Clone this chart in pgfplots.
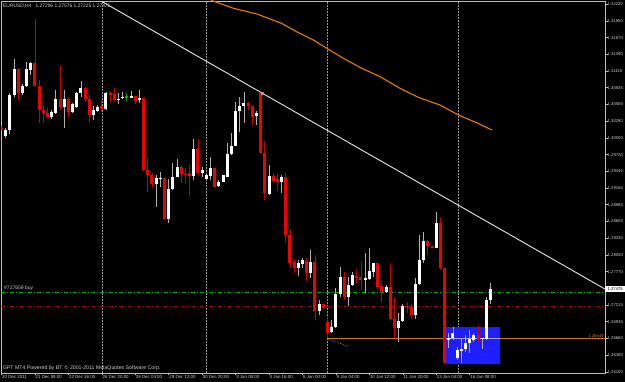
\documentclass[border=0pt]{standalone}
\usepackage{pgfplots}
\pgfplotsset{compat=1.18}
\usepackage{pgfplotstable}
\usepackage{fontspec}
\setmainfont{Liberation Sans}

\definecolor{mtred}{RGB}{240,0,0}
\definecolor{mtredwick}{RGB}{200,0,0}
\definecolor{bullwick}{RGB}{175,175,175}
\definecolor{maorange}{RGB}{230,125,0}
\definecolor{hlorange}{RGB}{205,115,30}
\definecolor{lavender}{RGB}{175,165,255}
\definecolor{boxblue}{RGB}{30,30,255}
\definecolor{sepgray}{RGB}{150,150,150}
\definecolor{mtgreen}{RGB}{0,170,0}
\definecolor{mtdred}{RGB}{165,0,0}
\definecolor{fg}{RGB}{205,205,205}
\definecolor{framegray}{RGB}{190,190,190}

% H4 candles, bar index i (bull = close above open)
\pgfplotstableread{
i o h l c
1 1.30030 1.30164 1.29997 1.30130
2 1.30130 1.30747 1.30064 1.30714
3 1.30714 1.31314 1.30680 1.31147
5 1.30747 1.30897 1.30714 1.30864
6 1.30864 1.31264 1.30847 1.31147
7 1.31130 1.31264 1.31047 1.31247
12 1.30347 1.30464 1.30314 1.30430
13 1.30414 1.30797 1.30397 1.30647
15 1.30514 1.30797 1.30164 1.30647
17 1.30430 1.30580 1.30414 1.30564
18 1.30514 1.30764 1.30497 1.30747
19 1.30747 1.30947 1.30680 1.30830
22 1.30380 1.30530 1.30297 1.30464
23 1.30447 1.30547 1.30430 1.30514
25 1.30480 1.30764 1.30464 1.30747
28 1.30647 1.30747 1.30564 1.30647
29 1.30659 1.30769 1.30642 1.30685
31 1.30680 1.30780 1.30664 1.30697
33 1.30630 1.30797 1.30585 1.30669
37 1.29230 1.29380 1.28847 1.29330
38 1.29330 1.29430 1.29180 1.29330
40 1.28647 1.29314 1.28580 1.29147
41 1.29147 1.29580 1.29130 1.29347
42 1.29347 1.29647 1.29347 1.29514
46 1.29364 1.29980 1.29297 1.29814
48 1.29409 1.29519 1.29352 1.29464
49 1.29314 1.29414 1.29297 1.29380
50 1.29369 1.29685 1.29297 1.29497
52 1.29197 1.29297 1.29180 1.29269
53 1.29269 1.29380 1.29264 1.29380
54 1.29352 1.29914 1.29347 1.29730
55 1.29730 1.30080 1.29714 1.29864
56 1.29864 1.30602 1.29864 1.30447
57 1.30447 1.30685 1.30102 1.30530
58 1.30530 1.30759 1.30242 1.30575
61 1.30364 1.30447 1.30214 1.30409
64 1.29064 1.29547 1.29047 1.29364
67 1.29269 1.29380 1.29085 1.29352
71 1.27825 1.27964 1.27697 1.27919
72 1.27897 1.27992 1.27825 1.27964
74 1.27742 1.28130 1.27659 1.27935
76 1.27119 1.27297 1.27047 1.27225
79 1.26759 1.26964 1.26742 1.26852
80 1.26852 1.27492 1.26835 1.27392
81 1.27392 1.27852 1.27352 1.27675
83 1.27352 1.27685 1.27197 1.27547
84 1.27547 1.27769 1.27530 1.27714
87 1.27642 1.28075 1.27419 1.27659
88 1.27642 1.28169 1.27630 1.27780
89 1.27769 1.27919 1.27685 1.27909
92 1.27435 1.27547 1.27419 1.27519
95 1.26835 1.27075 1.26602 1.26952
96 1.26952 1.27225 1.26935 1.27202
99 1.27047 1.27659 1.26975 1.27564
100 1.27564 1.28380 1.27547 1.27964
101 1.27964 1.28435 1.27909 1.28285
104 1.28169 1.28769 1.28159 1.28585
107 1.26642 1.26752 1.26492 1.26669
108 1.26669 1.26852 1.26630 1.26752
109 1.26325 1.26509 1.26297 1.26464
110 1.26464 1.26659 1.26252 1.26480
111 1.26480 1.26714 1.26435 1.26585
112 1.26575 1.26797 1.26409 1.26642
113 1.26630 1.26752 1.26602 1.26714
115 1.26659 1.26659 1.26475 1.26659
116 1.26642 1.27342 1.26630 1.27297
117 1.27296 1.27576 1.27225 1.27475
}\bull

\pgfplotstableread{
i o h l c
0 1.30164 1.30197 1.30114 1.30130
4 1.31147 1.31147 1.30630 1.30747
8 1.31247 1.31980 1.30847 1.30864
9 1.30864 1.30964 1.30247 1.30464
10 1.30464 1.30547 1.30247 1.30414
11 1.30414 1.30497 1.30330 1.30347
14 1.30647 1.31197 1.30464 1.30514
16 1.30647 1.30664 1.30347 1.30430
20 1.30830 1.30847 1.30597 1.30647
21 1.30647 1.30714 1.30264 1.30380
24 1.30530 1.30614 1.30430 1.30480
26 1.30752 1.30769 1.30602 1.30725
27 1.30730 1.30830 1.30614 1.30630
32 1.30697 1.30697 1.30564 1.30614
34 1.30669 1.30669 1.29447 1.29464
35 1.29464 1.29680 1.29097 1.29380
36 1.29380 1.29414 1.29180 1.29230
39 1.29330 1.29330 1.28630 1.28647
43 1.29514 1.29547 1.29247 1.29397
44 1.29405 1.29497 1.29247 1.29389
45 1.29414 1.29547 1.29030 1.29364
47 1.29814 1.29964 1.29380 1.29414
51 1.29497 1.29497 1.29180 1.29185
59 1.30575 1.30602 1.30464 1.30535
60 1.30535 1.30535 1.30214 1.30352
62 1.30742 1.30742 1.29752 1.29752
63 1.29752 1.29952 1.28964 1.29085
65 1.29364 1.29409 1.29242 1.29285
66 1.29309 1.29409 1.29119 1.29269
68 1.29342 1.29419 1.28252 1.28380
69 1.28380 1.28464 1.27830 1.27919
70 1.27935 1.27964 1.27742 1.27825
73 1.27952 1.27992 1.27619 1.27742
75 1.27935 1.28047 1.26964 1.27114
77 1.27225 1.27230 1.27147 1.27159
78 1.26935 1.27030 1.26659 1.26752
82 1.27675 1.27769 1.27297 1.27352
85 1.27697 1.27809 1.27575 1.27659
86 1.27675 1.27947 1.27464 1.27630
90 1.27909 1.27909 1.27464 1.27509
91 1.27530 1.27614 1.27269 1.27435
93 1.27519 1.27909 1.26964 1.26980
94 1.26980 1.27325 1.26659 1.26835
97 1.27202 1.27259 1.27075 1.27185
98 1.27185 1.27225 1.26992 1.27047
102 1.28285 1.28297 1.28047 1.28197
103 1.28197 1.28197 1.28164 1.28169
105 1.28585 1.28659 1.27797 1.27825
106 1.27825 1.27825 1.26230 1.26242
114 1.26714 1.26864 1.26602 1.26642
}\bear

\pgfplotstableread{
i o h l c
30 1.30685 1.30747 1.30614 1.30685
}\doji

\begin{document}
\begin{tikzpicture}
\path[use as bounding box, fill=black] (-1.5pt,-9pt) rectangle (623.5pt,373pt);
\begin{axis}[
  scale only axis, width=603.5pt, height=372pt,
  xmin=0, xmax=144.38, ymin=1.26080, ymax=1.32280,
  axis line style={draw=framegray, line width=0.6pt},
  tick align=outside, major tick length=2.5pt,
  xtick pos=left, ytick pos=right, yticklabel pos=right,
  tick style={draw=framegray, line width=0.5pt},
  xtick={0,8,16,24,32,40,48,56,64,72,80,88,96,104,112},
  xticklabels={20 Dec 2011,21 Dec 08:00,22 Dec 16:00,26 Dec 20:00,28 Dec 04:00,29 Dec 12:00,30 Dec 20:00,3 Jan 08:00,4 Jan 16:00,6 Jan 00:00,9 Jan 04:00,10 Jan 12:00,11 Jan 20:00,13 Jan 04:00,16 Jan 08:00},
  ytick={1.32230,1.31950,1.31670,1.31390,1.31115,1.30835,1.30555,1.30280,1.30000,1.29720,1.29445,1.29165,1.28885,1.28605,1.28330,1.28050,1.27770,1.27215,1.26935,1.26660,1.26380,1.26100},
  yticklabels={1.32230,1.31950,1.31670,1.31390,1.31115,1.30835,1.30555,1.30280,1.30000,1.29720,1.29445,1.29165,1.28885,1.28605,1.28330,1.28050,1.27770,1.27215,1.26935,1.26660,1.26380,1.26100},
  xticklabel style={font=\fontsize{4.4}{5}\selectfont, text=fg, anchor=north west, inner sep=0pt, xshift=0.5pt},
  yticklabel style={font=\fontsize{4.2}{5}\selectfont, text=fg, anchor=west, inner sep=0pt},
]
% weekly separators
\addplot[sepgray, line width=0.6pt, dash pattern=on 1.5pt off 1.5pt] coordinates {(24,1.2608) (24,1.3228)};
\addplot[sepgray, line width=0.6pt, dash pattern=on 1.5pt off 1.5pt] coordinates {(49,1.2608) (49,1.3228)};
\addplot[sepgray, line width=0.6pt, dash pattern=on 1.5pt off 1.5pt] coordinates {(78,1.2608) (78,1.3228)};
\addplot[sepgray, line width=0.6pt, dash pattern=on 1.5pt off 1.5pt] coordinates {(109.2,1.2608) (109.2,1.3228)};
% blue rectangle
\addplot[fill=boxblue, draw=none] coordinates {(106.3,1.26230) (119.3,1.26230) (119.3,1.26842) (106.3,1.26842)} -- cycle;
% order lines
\addplot[mtgreen, line width=0.7pt, dash pattern=on 4pt off 2pt on 1pt off 2pt] coordinates {(0,1.27430) (144.38,1.27430)};
\addplot[mtdred, line width=0.7pt, dash pattern=on 4pt off 2pt on 1pt off 2pt] coordinates {(0,1.27185) (144.38,1.27185)};
% horizontal level 1.26649
\addplot[hlorange, line width=1.1pt] coordinates {(78,1.26649) (106.3,1.26649)};
\addplot[lavender, line width=1.1pt] coordinates {(106.3,1.26649) (119.3,1.26649)};
\addplot[hlorange, line width=1.1pt] coordinates {(119.3,1.26649) (144.38,1.26649)};
\addplot[sepgray, line width=0.6pt, dash pattern=on 1pt off 1.5pt] coordinates {(78.2,1.26642) (83.2,1.26519)};
% moving average
\addplot[maorange, line width=1.1pt] coordinates {(50.2,1.32290) (51.1,1.32268) (55.5,1.32158) (61.1,1.32063) (67.0,1.31908) (70.6,1.31768) (74.6,1.31630) (78.2,1.31475) (81.8,1.31325) (86.2,1.31158) (90.6,1.31018) (95.3,1.30825) (99.7,1.30675) (104.9,1.30546) (109.3,1.30380) (113.7,1.30251) (117.3,1.30130)};
% trendline
\addplot[white!90!black, line width=0.9pt] coordinates {(24,1.32272) (144.38,1.27479)};
% candles: wicks
\addplot[forget plot, draw=none, mark=none, error bars/.cd, y dir=both, y explicit, error mark=none,
  error bar style={draw=bullwick, line width=0.8pt}]
  table[x=i, y expr=(\thisrow{h}+\thisrow{l})/2, y error expr=(\thisrow{h}-\thisrow{l})/2] {\bull};
\addplot[forget plot, draw=none, mark=none, error bars/.cd, y dir=both, y explicit, error mark=none,
  error bar style={draw=mtredwick, line width=0.8pt}]
  table[x=i, y expr=(\thisrow{h}+\thisrow{l})/2, y error expr=(\thisrow{h}-\thisrow{l})/2] {\bear};
\addplot[forget plot, draw=none, mark=none, error bars/.cd, y dir=both, y explicit, error mark=none,
  error bar style={draw=mtgreen, line width=0.8pt}]
  table[x=i, y expr=(\thisrow{h}+\thisrow{l})/2, y error expr=(\thisrow{h}-\thisrow{l})/2] {\doji};
% candles: bodies
\addplot[forget plot, draw=none, mark=none, error bars/.cd, y dir=both, y explicit, error mark=none,
  error bar style={draw=white, line width=3pt}]
  table[x=i, y expr=(\thisrow{o}+\thisrow{c})/2, y error expr={max(abs(\thisrow{o}-\thisrow{c})/2,0.00008)}] {\bull};
\addplot[forget plot, draw=none, mark=none, error bars/.cd, y dir=both, y explicit, error mark=none,
  error bar style={draw=mtred, line width=3pt}]
  table[x=i, y expr=(\thisrow{o}+\thisrow{c})/2, y error expr={max(abs(\thisrow{o}-\thisrow{c})/2,0.00008)}] {\bear};
\addplot[forget plot, draw=none, mark=none, error bars/.cd, y dir=both, y explicit, error mark=none,
  error bar style={draw=mtgreen, line width=3pt}]
  table[x=i, y expr=(\thisrow{o}+\thisrow{c})/2, y error expr={max(abs(\thisrow{o}-\thisrow{c})/2,0.00008)}] {\doji};
% trendline anchor point
\addplot[only marks, mark=square, mark size=1pt, mark options={draw=sepgray, line width=0.5pt}] coordinates {(62.4,1.30746)};
\end{axis}
\node[anchor=west, inner sep=0pt, text=fg, font=\fontsize{4.9}{5}\selectfont] at (1.5pt,367pt) {EURUSD,H4\hspace{4pt}1.27296 1.27576 1.27225 1.27475};
\node[anchor=west, inner sep=0pt, text=fg, font=\fontsize{5}{5}\selectfont] at (2.5pt,84.5pt) {\#727659 buy};
\node[anchor=west, inner sep=0pt, text=fg, font=\fontsize{5.2}{5}\selectfont] at (1.2pt,4.5pt) {GPT MT4 Powered by BT, © 2001-2011 MetaQuotes Software Corp.};
\node[anchor=east, inner sep=0pt, text=hlorange, font=\fontsize{4.3}{5}\selectfont] at (602.5pt,37pt) {1.26649};
\node[anchor=west, fill=white, text=black, inner sep=0pt, minimum width=20pt, minimum height=6.5pt, font=\fontsize{4.2}{5}\selectfont] at (603.5pt,84pt) {1.27475};
\end{tikzpicture}
\end{document}
